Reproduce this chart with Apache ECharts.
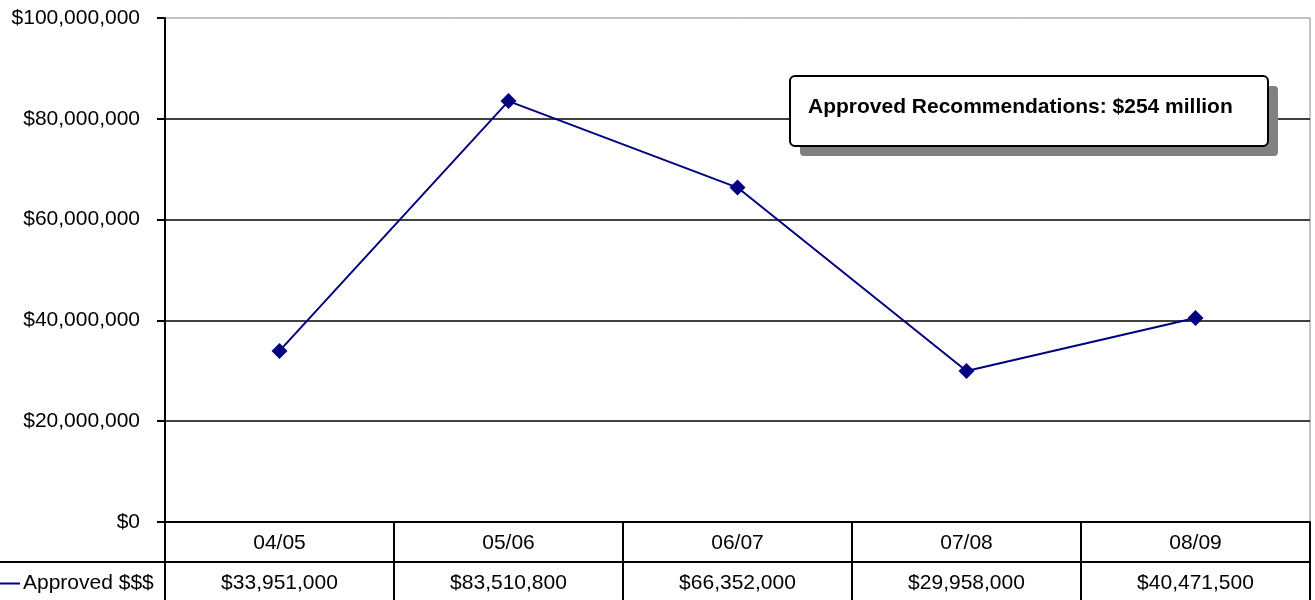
<!DOCTYPE html>
<html><head><meta charset="utf-8">
<script src="https://cdn.jsdelivr.net/npm/echarts@6/dist/echarts.min.js"></script>
<style>html,body{margin:0;padding:0;background:#fff}#c{width:1315px;height:600px}</style>
</head><body><div id="c"></div>
<script>
const categories = ['04/05','05/06','06/07','07/08','08/09'];
const approved = [33951000, 83510800, 66352000, 29958000, 40471500];
const seriesName = 'Approved $$$';
const yTicks = [0, 20000000, 40000000, 60000000, 80000000, 100000000];
const noteText = 'Approved Recommendations: $254 million';

const fmt = v => '$' + Number(v).toLocaleString('en-US');
const FONT = 'Liberation Sans, Arial, sans-serif';
const chart = echarts.init(document.getElementById('c'));
chart.setOption({
  animation: false,
  grid: {left: 165, top: 18, right: 5, bottom: 78, show: true, borderColor: '#888', borderWidth: 1},
  legend: {left: 0, top: 573, padding: 0, icon: 'rect', itemWidth: 20, itemHeight: 2, itemGap: 0,
    textStyle: {fontFamily: FONT, fontSize: 21, color: '#000', padding: [0,0,0,-2]},
    data: [seriesName]},
  xAxis: [{
    type: 'category', data: categories, position: 'bottom', boundaryGap: true,
    axisLine: {lineStyle: {color: '#000', width: 2}},
    axisTick: {show: true, length: 40, lineStyle: {color: '#000', width: 2}},
    axisLabel: {margin: 11, fontFamily: FONT, fontSize: 21, color: '#000'}
  }, {
    type: 'category', data: approved.map(fmt), position: 'bottom', offset: 40, boundaryGap: true,
    axisLine: {lineStyle: {color: '#000', width: 2}},
    axisTick: {show: true, length: 40, lineStyle: {color: '#000', width: 2}},
    axisLabel: {margin: 11, fontFamily: FONT, fontSize: 21, color: '#000'}
  }],
  yAxis: {
    type: 'value', min: 0, max: 100000000, interval: 20000000,
    axisLine: {show: true, lineStyle: {color: '#000', width: 2}},
    axisTick: {show: true, length: 8, lineStyle: {color: '#000', width: 2}},
    axisLabel: {margin: 25, padding: [4,0,0,0], fontFamily: FONT, fontSize: 21, color: '#000', formatter: v => fmt(v)},
    splitLine: {show: true, showMaxLine: false, lineStyle: {color: '#000', width: 1.5}}
  },
  series: [{
    name: seriesName, type: 'line', data: approved, xAxisIndex: 0,
    lineStyle: {color: '#000080', width: 2},
    itemStyle: {color: '#000080'},
    symbol: 'diamond', symbolSize: 16
  }],
  graphic: [
    {type: 'line', shape: {x1: 0, y1: 562, x2: 166, y2: 562}, style: {stroke: '#000', lineWidth: 2}, z: 10},
    {type: 'rect', shape: {x: 800, y: 86, width: 478, height: 70, r: 4}, style: {fill: '#808080'}, z: 10},
    {type: 'rect', shape: {x: 790, y: 76, width: 478, height: 70, r: 5}, style: {fill: '#fff', stroke: '#000', lineWidth: 2}, z: 11},
    {type: 'text', x: 808, y: 107, style: {text: noteText, fontFamily: FONT, fontWeight: 'bold', fontSize: 21, fill: '#000', verticalAlign: 'middle'}, z: 12}
  ]
});
</script></body></html>
